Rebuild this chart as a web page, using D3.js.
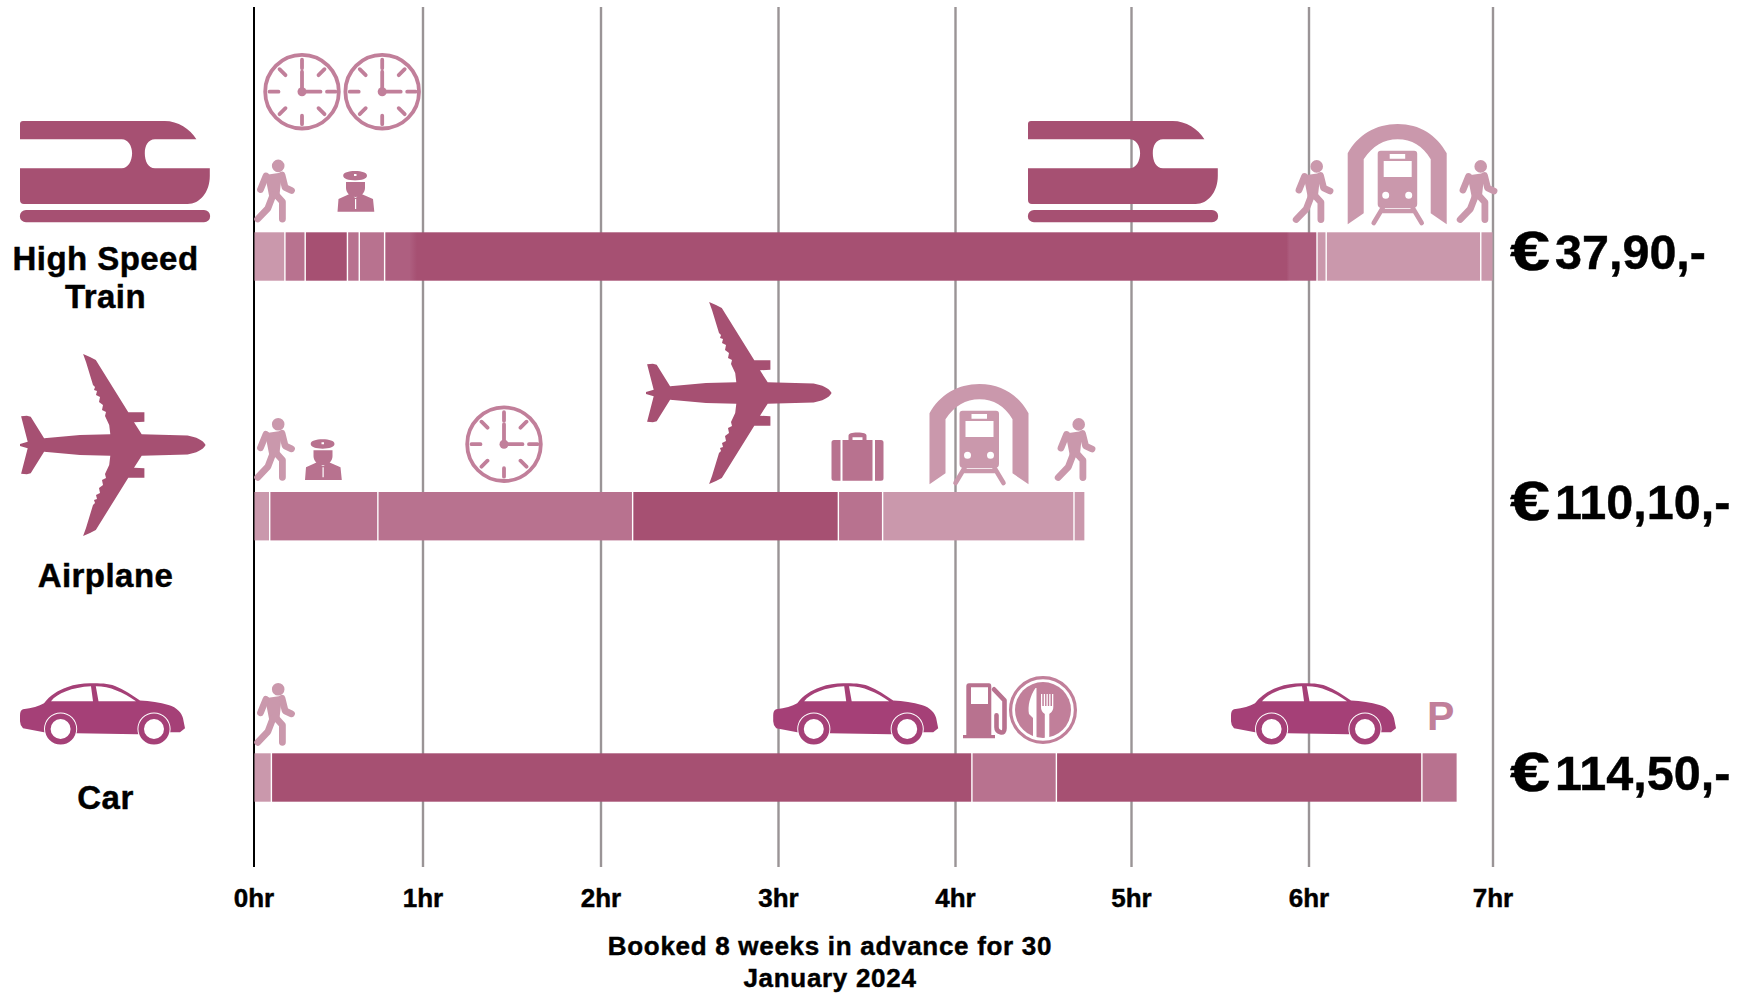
<!DOCTYPE html>
<html>
<head>
<meta charset="utf-8">
<title>Travel time and price</title>
<script src="https://cdn.jsdelivr.net/npm/d3@7"></script>
<style>
    html, body { margin: 0; padding: 0; background: #fff; }
    svg { display: block; }
    text { font-family: "Liberation Sans", Arial, sans-serif; font-weight: 700; fill: #000; stroke: #000; stroke-width: 0.45px; }
</style>
</head>
<body>
<div id="vis"></div>
<script>
// ----------------
// 1. Data
// ----------------
const routeLabels = [["High Speed", "Train"], ["Airplane"], ["Car"]];
const prices = ["37,90,-", "110,10,-", "114,50,-"];
const hourTicks = [0, 1, 2, 3, 4, 5, 6, 7];
const tickLabels = ["0hr", "1hr", "2hr", "3hr", "4hr", "5hr", "6hr", "7hr"];
const captionLines = ["Booked 8 weeks in advance for 30", "January 2024"];

// length of each leg in hours, and what kind of leg it is
const trainHours = [0.19, 0.12, 0.25, 0.07, 0.15, 5.27, 0.05, 0.84, 0.06];
const trainKinds = ["walk", "wait", "ride", "wait", "wait", "longRide", "walk", "walk", "walk"];
const planeHours = [0.1, 0.64, 1.445, 1.16, 0.25, 1.085, 0.055];
const planeKinds = ["walk", "wait", "wait", "ride", "wait", "walk", "walk"];
const carHours = [0.11, 3.99, 0.48, 2.04, 0.185];
const carKinds = ["walk", "ride", "wait", "ride", "wait"];

// ----------------
// 2. Dimensions
// ----------------
const dimensions = {
    width: 1752,
    height: 995,
    gridTop: 7,
    gridBottom: 867,
    barHeight: 48.4
};
const barTops = [232.3, 492, 753.3];
const priceBaselines = [269, 518.5, 790];

const colors = { dark: "#a65072", mid: "#b8728f", clock: "#c17f9a", light: "#ca98ac", car: "#a54077", grid: "#9a9496" };

const svg = d3.select("#vis")
    .append("svg")
    .attr("width", dimensions.width)
    .attr("height", dimensions.height);

const defs = svg.append("defs");
const rideFade = defs.append("linearGradient").attr("id", "rideFade");
[[0, "#ae5f80"], [0.026, "#ae5f80"], [0.034, colors.dark], [0.968, colors.dark], [0.971, "#ad5d7e"], [1, "#ad5d7e"]]
    .forEach(s => rideFade.append("stop").attr("offset", s[0]).attr("stop-color", s[1]));

// ----------------
// 3. Scales
// ----------------
// the hour lines in the picture are not quite evenly spaced
const xScale = d3.scaleLinear()
    .domain(hourTicks)
    .range([253.5, 422.5, 600.5, 778, 955, 1131, 1308.5, 1492.5]);

const kindColor = d3.scaleOrdinal()
    .domain(["walk", "wait", "ride", "longRide"])
    .range([colors.light, colors.mid, colors.dark, "url(#rideFade)"]);

// ----------------
// 4. Axis and grid
// ----------------
const xAxis = d3.axisBottom(xScale)
    .tickValues(hourTicks)
    .tickSize(dimensions.gridTop - dimensions.gridBottom)
    .tickFormat((d, i) => tickLabels[i]);

const axis = svg.append("g")
    .attr("transform", `translate(0, ${dimensions.gridBottom})`)
    .call(xAxis);
axis.select(".domain").remove();
axis.selectAll(".tick line")
    .attr("stroke", d => d === 0 ? "#000" : colors.grid)
    .attr("stroke-width", d => d === 0 ? 2 : 2.4);
axis.selectAll(".tick text")
    .attr("y", 40)
    .attr("dy", 0)
    .style("font-size", "26px");

// ----------------
// 5. Bars
// ----------------
[[trainHours, trainKinds], [planeHours, planeKinds], [carHours, carKinds]].forEach((route, r) => {
    const hours = route[0];
    const ends = d3.cumsum(hours);
    const legs = hours.map((h, i) => ({ start: ends[i] - h, end: ends[i], kind: route[1][i] }));

    svg.append("g")
        .selectAll("rect")
        .data(legs)
        .join("rect")
        .attr("x", d => xScale(d.start) + (d.start === 0 ? 1 : 0))
        .attr("y", barTops[r])
        .attr("width", (d, i) => xScale(d.end) - xScale(d.start) - (i === legs.length - 1 ? 0 : 1.4) - (d.start === 0 ? 1 : 0))
        .attr("height", dimensions.barHeight)
        .attr("fill", d => kindColor(d.kind));
});

// ----------------
// 6. Pictograms
// ----------------
const icons = {
    train: c => [
        { d: "M3 0H144.7C158 0 170 8 176.4 18.3H135C128 18.3 124.8 25 124.8 32.3C124.8 40 128 47.3 135 47.3H189.8V55C189.8 71 180 83 167.6 83H4Q0 83 0 79V47.3H101.8C108 47.3 112.1 40 112.1 32.3C112.1 25 108 18.3 101.8 18.3H0V3Q0 0 3 0ZM6 89H184A6.15 6.15 0 0 1 184 101.3H6A6.15 6.15 0 0 1 6 89Z", fill: c }
    ],
    plane: c => [
        { d: "M185.6 91C183 86 176 83 167.6 81.5L121.7 80.3L114 68.3L124.4 67.7V58.3H108.3L75.8 6L70 3L63.1 0L66 8L73 31L75 33L74 36L77 37L76 41L80 43L79 48L83 51L82 56L86 58L85 62L89.2 71L90.3 80.3L60 81L24.1 84.3L10.7 62.7L6.9 61.7L1.1 62.3L7.7 87.7L0 90V92L7.7 94.3L1.1 119.7L6.9 120.3L10.7 119.3L24.1 97.7L60 101L90.3 101.7L89.2 111L85 120L86 124L82 126L83 131L79 134L80 139L76 141L77 145L74 146L75 149L73 151L66 174L63.1 182L70 179L75.8 176L108.3 123.7H124.4V114.3L114 113.7L121.7 101.7L167.6 100.5C176 99 183 96 185.6 91Z", fill: c }
    ],
    walker: c => [
        { d: "M17.4 5.9A6.3 6.3 0 1 0 30 5.9A6.3 6.3 0 1 0 17.4 5.9ZM10.5 15L27.5 12.5L25 35L14.8 37Z", fill: c },
        { d: "M11.5 16L6 29.5M27.5 15L30.6 27.5L37 30.5M18.5 35L13.4 48.3L3.2 59M21.8 35L27.9 41.7V59", stroke: c, width: 6.8 }
    ],
    officer: c => [
        { d: "M5.7 4.7C5.7 1.5 11 0 17.6 0C24.2 0 29.5 1.5 29.5 4.7C29.5 7.5 24.2 9.4 17.6 9.4C11 9.4 5.7 7.5 5.7 4.7ZM8.5 11H27.5V17C27.5 22 23 26 18 26C13 26 8.5 22 8.5 17ZM0 40.7L1 28L12 23L18 27L24 23L35.5 28L36.8 40.7Z", fill: c },
        { d: "M16.5 3H19V5H16.5ZM9 9.8H27V10.6H9ZM17.5 28H18.7V38H17.5Z", fill: "#fff" }
    ],
    clock: c => [
        { d: "M39 2.2A36.8 36.8 0 1 0 39 75.8A36.8 36.8 0 1 0 39 2.2Z", stroke: c, width: 3.8 },
        { d: "M39 7V15.5M39 63V71.5M6.5 39H15.5M64 39H72.5M16.5 16.5L22.5 22.5M55.5 55.5L61.5 61.5M61.5 16.5L55.5 22.5M22.5 55.5L16.5 61.5", stroke: c, width: 3.8 },
        { d: "M39 19V39H57.5", stroke: c, width: 3.8 },
        { d: "M34.5 39A4.5 4.5 0 1 0 43.5 39A4.5 4.5 0 1 0 34.5 39Z", fill: c }
    ],
    tunnel: c => [
        { d: "M0 29.3C10 11 28 0 50 0C72 0 89 11 99 29.3V100.3L83 89.3V35.3C75 22 64 15.3 50 15.3C36 15.3 25 22 16 35.3V89.3L0 100.3Z", fill: c },
        { d: "M33 26.7H66.5Q69.5 26.7 69.5 29.7V80Q69.5 84 65 84H34Q30 84 30 80V29.7Q30 26.7 33 26.7Z", fill: c },
        { d: "M42 30H57.5V34.7H42ZM36 37H64V53H36ZM34.5 71.3A3.5 3.5 0 1 0 41.5 71.3A3.5 3.5 0 1 0 34.5 71.3ZM57.5 71.3A3.5 3.5 0 1 0 64.5 71.3A3.5 3.5 0 1 0 57.5 71.3Z", fill: "#fff" },
        { d: "M35 84L26 99M65 84L74 99M34 87H66", stroke: c, width: 4.6 }
    ],
    suitcase: c => [
        { d: "M2.5 8.3H9V49H2.5Q0 49 0 46.5V10.8Q0 8.3 2.5 8.3ZM11 8.3H41V49H11ZM43.5 8.3H49.5Q52 8.3 52 10.8V46.5Q52 49 49.5 49H43.5ZM17 8.3V4C17 2 20 0.8 26 0.8C32 0.8 35 2 35 4V8.3H31V5.5H21V8.3Z", fill: c }
    ],
    car: c => [
        { d: "M0 32Q0 27 3 26C12 25 19 23 24 20C30 12 38 7 47 4C55 1 62 0 70 0C80 0 88 0 95 2.7C104 6 112 12 120 17.3C130 18 140 19 148.5 21.7C157 24 162 30 163 35L165 45L160 49H148.5L117 51L56.6 50L24 49L3 45Q0 42 0 38Z", fill: c },
        { d: "M31 18C37 10 52 4 71 3L73 18ZM78.5 18L75.8 3C90 3 103 9 116 18Z", fill: "#fff" },
        { d: "M24 45.7A16.6 16.6 0 1 0 57.2 45.7A16.6 16.6 0 1 0 24 45.7ZM117.4 45.7A16.6 16.6 0 1 0 150.6 45.7A16.6 16.6 0 1 0 117.4 45.7Z", fill: "#fff" },
        { d: "M25 45.7A15.6 15.6 0 1 0 56.2 45.7A15.6 15.6 0 1 0 25 45.7ZM118.4 45.7A15.6 15.6 0 1 0 149.6 45.7A15.6 15.6 0 1 0 118.4 45.7Z", fill: c },
        { d: "M30.6 45.7A10 10 0 1 0 50.6 45.7A10 10 0 1 0 30.6 45.7ZM124 45.7A10 10 0 1 0 144 45.7A10 10 0 1 0 124 45.7Z", fill: "#fff" }
    ],
    pump: c => [
        { d: "M6 0H26Q28.3 0 28.3 3V51.7H32V55H0V51.7H3.3V3Q3.3 0 6 0ZM8 4V20.7H25V4Z", fill: c, rule: "evenodd" },
        { d: "M31 6L41.5 17V45Q41.5 50 37.5 49Q33.5 48 33.5 44V32", stroke: c, width: 4.6 }
    ],
    plate: c => [
        { d: "M34 1.6A32.4 32.4 0 1 0 34 66.4A32.4 32.4 0 1 0 34 1.6Z", stroke: c, width: 3.2 },
        { d: "M34 6A28 28 0 1 0 34 62A28 28 0 1 0 34 6Z", fill: c },
        { d: "M26.5 12C21 20 18.5 30 20 38L24 42V62H27.5V12ZM32 18H33.3V30H34.8V18H36.1V30H37.5V18H38.8V30H40.2V18H41.5V30H43V18H44.3V31C44.3 35 41.5 37 40.3 38V62H35.8V38C34.5 37 32 35 32 31Z", fill: "#fff" }
    ]
};

function placeIcon(name, left, top, color) {
    const g = svg.append("g").attr("transform", `translate(${left}, ${top})`);
    g.selectAll("path")
        .data(icons[name](color))
        .join("path")
        .attr("d", d => d.d)
        .attr("fill", d => d.fill || "none")
        .attr("fill-rule", d => d.rule || null)
        .attr("stroke", d => d.stroke || "none")
        .attr("stroke-width", d => d.width || 0)
        .attr("stroke-linecap", "round")
        .attr("stroke-linejoin", "round");
}

// train row
placeIcon("train", 20, 121, colors.dark);
placeIcon("clock", 263, 52.7, colors.clock);
placeIcon("clock", 343.2, 52.7, colors.clock);
placeIcon("walker", 254.5, 160, colors.light);
placeIcon("officer", 337.5, 171, colors.mid);
placeIcon("train", 1028, 121, colors.dark);
placeIcon("walker", 1293, 160.5, colors.light);
placeIcon("tunnel", 1347.7, 124, colors.light);
placeIcon("walker", 1457, 160.5, colors.light);

// airplane row
placeIcon("plane", 20, 354, colors.dark);
placeIcon("walker", 254.5, 418.3, colors.light);
placeIcon("officer", 305, 439.3, colors.mid);
placeIcon("clock", 465, 405.2, colors.clock);
placeIcon("plane", 646, 302, colors.dark);
placeIcon("suitcase", 831.5, 431.7, colors.mid);
placeIcon("tunnel", 929.5, 384, colors.light);
placeIcon("walker", 1055, 418.5, colors.light);

// car row
placeIcon("car", 20, 683.3, colors.car);
placeIcon("walker", 254.5, 683.3, colors.light);
placeIcon("car", 773.2, 683.3, colors.car);
placeIcon("pump", 963, 683.3, colors.mid);
placeIcon("plate", 1009, 676, colors.clock);
placeIcon("car", 1231, 683.3, colors.car);

svg.append("text")
    .attr("x", 1427)
    .attr("y", 730)
    .style("font-size", "41px")
    .style("fill", colors.clock)
    .style("stroke", "none")
    .text("P");

// ----------------
// 7. Labels
// ----------------
const labelBaselines = [[270, 308], [587], [808.5]];
routeLabels.forEach((lines, r) => {
    lines.forEach((line, i) => {
        svg.append("text")
            .attr("x", 105.5)
            .attr("y", labelBaselines[r][i])
            .attr("text-anchor", "middle")
            .style("font-size", "33px")
            .style("letter-spacing", "0.45px")
            .text(line);
    });
});

prices.forEach((price, r) => {
    svg.append("text")
        .attr("x", 1510)
        .attr("y", priceBaselines[r] + 1)
        .attr("textLength", 40)
        .attr("lengthAdjust", "spacingAndGlyphs")
        .style("font-size", "56px")
        .text("€");
    svg.append("text")
        .attr("x", 1555)
        .attr("y", priceBaselines[r])
        .style("font-size", "48.5px")
        .text(price);
});

captionLines.forEach((line, i) => {
    svg.append("text")
        .attr("x", 830)
        .attr("y", 955 + i * 31.5)
        .attr("text-anchor", "middle")
        .style("font-size", "26px")
        .style("letter-spacing", "0.7px")
        .text(line);
});
</script>
</body>
</html>
